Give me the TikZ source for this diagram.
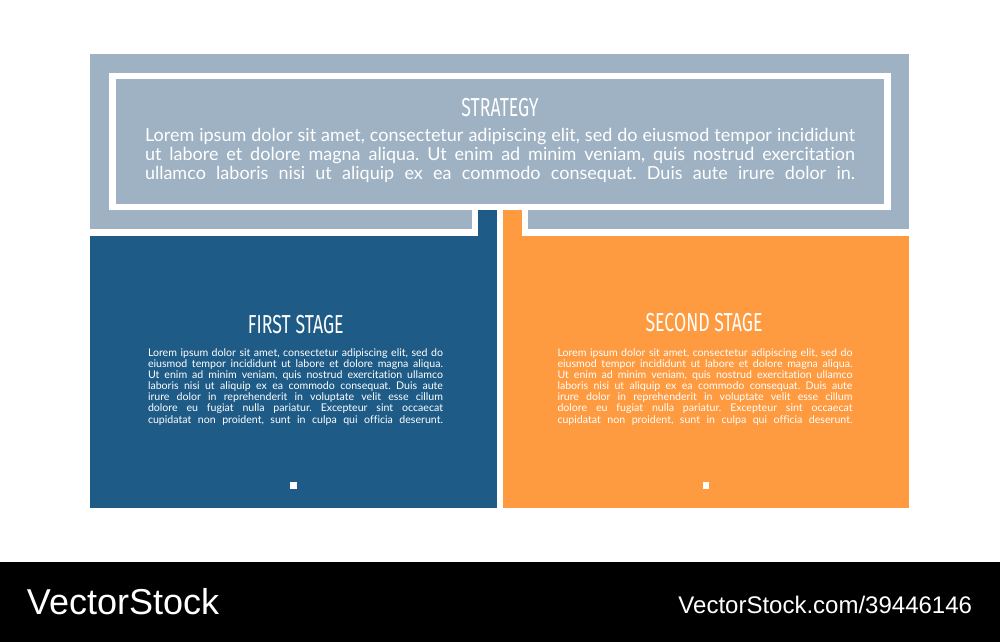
\documentclass[tikz,border=0pt]{standalone}
\usepackage{fontspec}
\setmainfont{Lato}[Ligatures=NoCommon]
\newfontfamily\headfont[FakeStretch=0.68]{Fira Sans}
\newfontfamily\footfont{Liberation Sans}
\definecolor{stratgray}{HTML}{9EB2C4}
\definecolor{stageblue}{HTML}{1E5B86}
\definecolor{stageorange}{HTML}{FE9A40}
\tikzset{
  lbl/.style={inner sep=0pt, outer sep=0pt, text=white},
  headlbl/.style={lbl, anchor=base, font=\headfont\fontsize{26}{28}\selectfont},
  bodylbl/.style={lbl, anchor=base west},
  dotmark/.style={fill=white, minimum size=6.5pt, inner sep=0pt},
}
\frenchspacing
\newcommand{\fullline}[2]{\makebox[#1][s]{#2}}
\begin{document}
\begin{tikzpicture}[x=1pt,y=-1pt]
\useasboundingbox (0,0) rectangle (1000,642);
\fill[white] (0,0) rectangle (1000,642);
% strategy panel
\fill[stratgray] (90,54) rectangle (909,229);
\fill[white] (109,73) rectangle (891,210);
\fill[white] (472,205) rectangle (528,236);
\fill[stratgray] (115.7,79) rectangle (884.3,204);
% stage boxes and connecting strips
\fill[stageblue] (90,235.7) rectangle (497,507.7);
\fill[stageblue] (478,210) rectangle (497,236);
\fill[stageorange] (503,235.7) rectangle (909,507.7);
\fill[stageorange] (503,210) rectangle (522,236);
% strategy texts
\node[headlbl] (strat) at (500,116.7) {STRATEGY};
\node[bodylbl] (strattext) at (145,141.7) {\parbox[t]{710pt}{\fontsize{18}{18.8}\selectfont
\fullline{710pt}{Lorem ipsum dolor sit amet, consectetur adipiscing elit, sed do eiusmod tempor incididunt}\\
\fullline{710pt}{ut labore et dolore magna aliqua. Ut enim ad minim veniam, quis nostrud exercitation}\\
\fullline{710pt}{ullamco laboris nisi ut aliquip ex ea commodo consequat. Duis aute irure dolor in.}}};
% first stage
\node[headlbl] (first) at (295.8,333.3) {FIRST STAGE};
\node[bodylbl] (firsttext) at (148,356.7) {\parbox[t]{295pt}{\fontsize{10.6}{11.05}\selectfont
\fullline{295pt}{Lorem ipsum dolor sit amet, consectetur adipiscing elit, sed do}\\
\fullline{295pt}{eiusmod tempor incididunt ut labore et dolore magna aliqua.}\\
\fullline{295pt}{Ut enim ad minim veniam, quis nostrud exercitation ullamco}\\
\fullline{295pt}{laboris nisi ut aliquip ex ea commodo consequat. Duis aute}\\
\fullline{295pt}{irure dolor in reprehenderit in voluptate velit esse cillum}\\
\fullline{295pt}{dolore eu fugiat nulla pariatur. Excepteur sint occaecat}\\
\fullline{295pt}{cupidatat non proident, sunt in culpa qui officia deserunt.}}};
\node[dotmark] (firstdot) at (293.3,485.7) {};
% second stage
\node[headlbl] (second) at (704,331.7) {SECOND STAGE};
\node[bodylbl] (secondtext) at (557.5,356.7) {\parbox[t]{295pt}{\fontsize{10.6}{11.05}\selectfont
\fullline{295pt}{Lorem ipsum dolor sit amet, consectetur adipiscing elit, sed do}\\
\fullline{295pt}{eiusmod tempor incididunt ut labore et dolore magna aliqua.}\\
\fullline{295pt}{Ut enim ad minim veniam, quis nostrud exercitation ullamco}\\
\fullline{295pt}{laboris nisi ut aliquip ex ea commodo consequat. Duis aute}\\
\fullline{295pt}{irure dolor in reprehenderit in voluptate velit esse cillum}\\
\fullline{295pt}{dolore eu fugiat nulla pariatur. Excepteur sint occaecat}\\
\fullline{295pt}{cupidatat non proident, sunt in culpa qui officia deserunt.}}};
\node[dotmark] (seconddot) at (706,485.7) {};
% footer
\fill[black] (0,562) rectangle (1000,642);
\node[lbl, anchor=base west, font=\footfont\fontsize{36}{40}\selectfont] (brand) at (27,614) {VectorStock};
\node[lbl, anchor=base east, font=\footfont\fontsize{24}{28}\selectfont] (brandurl) at (972,613) {VectorStock.com/39446146};
\end{tikzpicture}
\end{document}
